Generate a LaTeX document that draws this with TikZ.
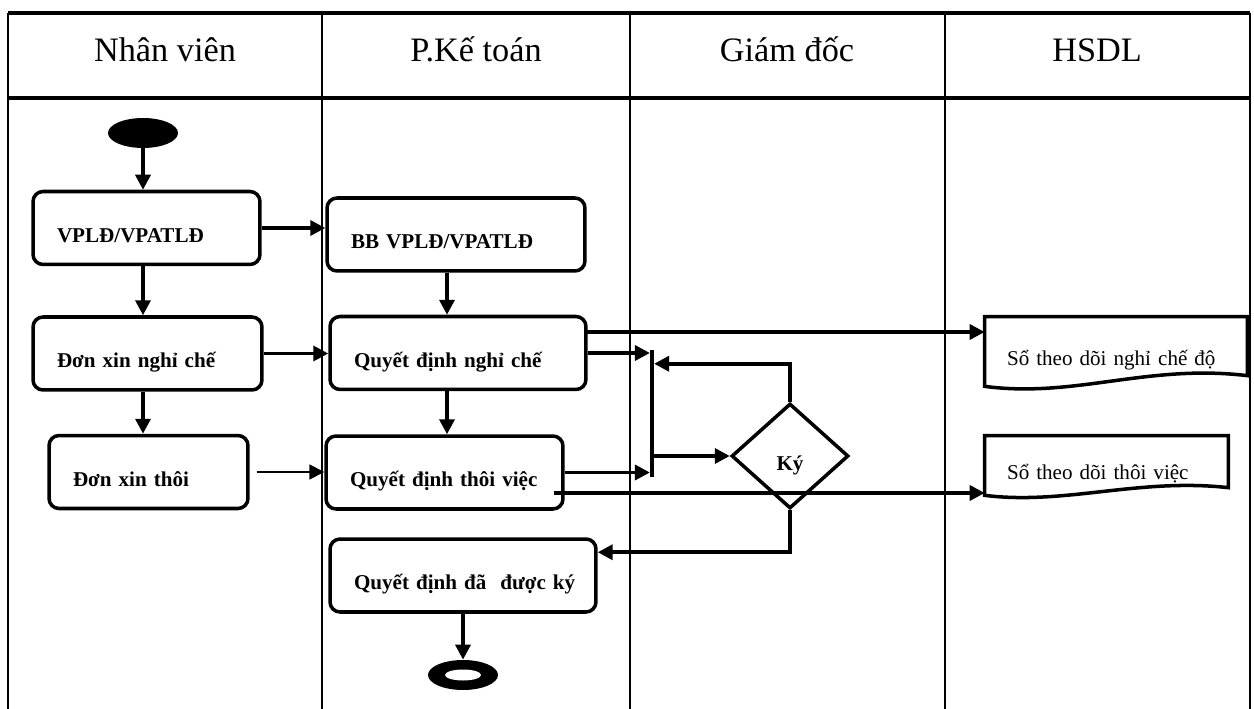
\documentclass[tikz,border=0pt]{standalone}
\usepackage{fontspec}
\setmainfont{Liberation Serif}
\usetikzlibrary{arrows.meta,shapes.geometric}

\begin{document}
\begin{tikzpicture}[
    x=0.02cm, y=-0.02cm,
    font=\fontsize{12}{14}\selectfont,
    rule/.style={line width=1.8pt},
    laneline/.style={line width=1.1pt},
    lane/.style={anchor=base, font=\fontsize{19.5}{22}\selectfont},
    box/.style={draw, line width=2pt, rounded corners=0.2cm, minimum height=1.46cm,
      align=left, inner xsep=0.48cm, text height=20pt, text depth=4pt,
      font=\fontsize{12}{14}\selectfont\bfseries},
    doc/.style={align=left, inner xsep=0.44cm, text height=20pt, text depth=4pt},
    docline/.style={line width=2pt},
    check/.style={diamond, draw, line width=2pt, minimum width=2.34cm, minimum height=2.1cm,
      inner sep=0pt, text height=20pt, text depth=3pt, font=\fontsize{12}{14}\selectfont\bfseries},
    dot/.style={ellipse, fill, inner sep=0pt, minimum width=1.4cm, minimum height=0.6cm},
    arr/.style={-{Triangle[length=0.3cm, width=0.3cm]}, line width=2pt},
    thinarr/.style={arr, line width=1pt},
  ]
  \useasboundingbox (0,0) rectangle (1254,709);
  % khung bang va cac lan
  \draw[rule] (8,13) -- (1250,13);
  \draw[rule] (8,98) -- (1250,98);
  \foreach \x in {8,322,630,945,1250}
    \draw[laneline] (\x,13) -- (\x,709);
  \node[lane] (nv) at (165,62) {Nhân viên};
  \node[lane] (kt) at (476,62) {P.Kế toán};
  \node[lane] (gd) at (787,62) {Giám đốc};
  \node[lane] (hs) at (1097,62) {HSDL};

  % Nhan vien
  \node[dot] (start) at (143,133) {};
  \node[box, text width=3.58cm] (vpld)    at (146.5,228)   {VPLĐ/VPATLĐ};
  \node[box, text width=3.62cm] (donnghi) at (147.5,353.5) {Đơn xin nghỉ chế};
  \node[box, text width=3.02cm] (donthoi) at (148.5,472)   {Đơn xin thôi};

  % P.Ke toan
  \node[box, text width=4.2cm]  (bb)     at (456,234.5) {BB VPLĐ/VPATLĐ};
  \node[box, text width=4.16cm] (qdnghi) at (458,353)   {Quyết định nghỉ chế};
  \node[box, text width=3.78cm] (qdthoi) at (444.5,472.5) {\mbox{Quyết định thôi việc}};
  \node[box, text width=4.36cm] (qdky)   at (463,575.5) {\mbox{Quyết định đã\ \ được ký}};
  \node[dot] (stop) at (463,675) {};
  \node[ellipse, fill=white, inner sep=0pt, minimum width=0.72cm, minimum height=0.22cm] (stop-in) at (stop) {};

  % Giam doc
  \node[fill, inner sep=0pt, minimum width=0.07cm, minimum height=2.54cm] (join) at (652,413.5) {};
  \node[check] (ky) at (790,456) {Ký};

  % HSDL
  \node[doc, text width=4.36cm, minimum height=1.38cm] (songhi) at (1116,351.5) {\mbox{Sổ theo dõi nghỉ chế độ}};
  \draw[docline] (songhi.north east) -- ++(0,59) .. controls +(-100,-12) and +(90,12) .. (songhi.south west) -- (songhi.north west) -- cycle;
  \node[doc, text width=3.98cm, minimum height=1.18cm] (sothoi) at (1106.5,465.5) {Sổ theo dõi thôi việc};
  \draw[docline] (sothoi.north east) -- ++(0,52) .. controls +(-90,-10) and +(80,10) .. (sothoi.south west) -- (sothoi.north west) -- cycle;

  \coordinate (nv-x) at (143,0);
  \coordinate (kt-x) at (447,0);
  \coordinate (nc-out) at (586,332);
  \coordinate (tv-out) at (554,493);

  % luong
  \draw[arr] (start.south) -- (start.south |- vpld.north);
  \draw[arr] (nv-x |- vpld.south) -- (nv-x |- donnghi.north);
  \draw[arr] (nv-x |- donnghi.south) -- (nv-x |- donthoi.north);
  \draw[arr] (vpld.east) -- (vpld.east -| bb.west);
  \draw[arr] (donnghi.east) -- (donnghi.east -| qdnghi.west);
  \draw[thinarr, shorten <=0.14cm] (donthoi.east) -- (donthoi.east -| qdthoi.west);
  \draw[arr] (kt-x |- bb.south) -- (kt-x |- qdnghi.north);
  \draw[arr] (kt-x |- qdnghi.south) -- (kt-x |- qdthoi.north);
  \draw[arr] (qdnghi.east) -- (qdnghi.east -| join.west);
  \draw[arr] (qdthoi.east) -- (qdthoi.east -| join.west);
  \draw[arr] (join.east |- ky.west) -- (ky.west);
  \draw[arr] (ky.north) -- ++(0,-38) coordinate (ky-up) -- (ky-up -| join.east);
  \draw[arr] (ky.south) -- ++(0,42) coordinate (ky-dn) -- (ky-dn -| qdky.east);
  \draw[arr] (nc-out) -- (nc-out -| songhi.west);
  \draw[arr] (tv-out) -- (tv-out -| sothoi.west);
  \draw[arr] (qdky.south) -- (stop.north);
\end{tikzpicture}
\end{document}
